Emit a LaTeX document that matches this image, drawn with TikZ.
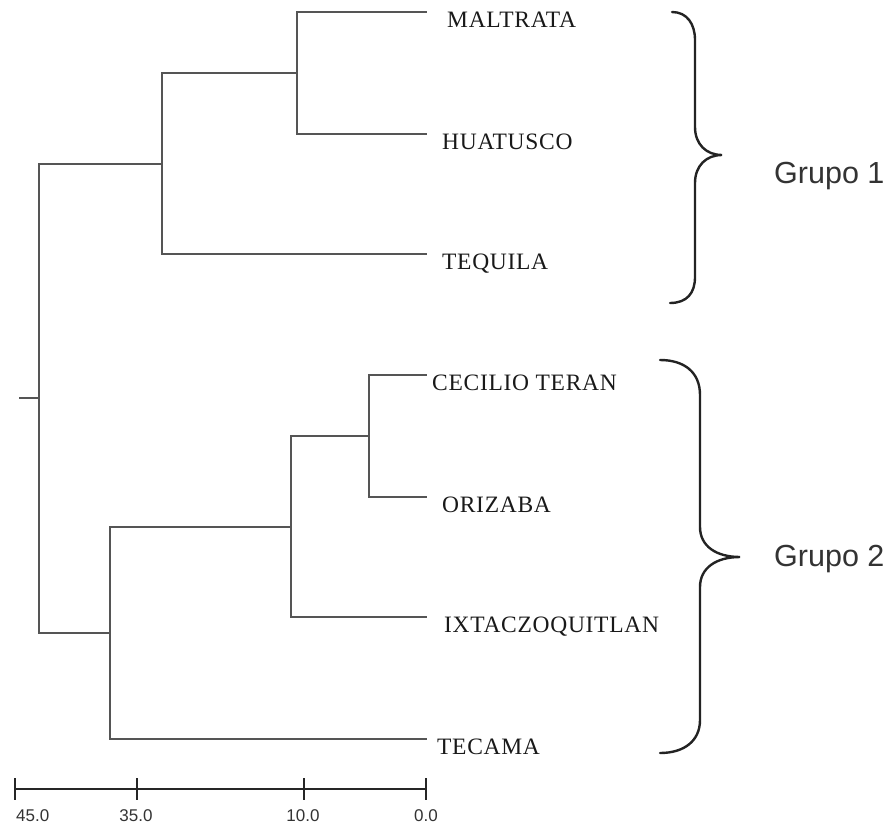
\documentclass[tikz,border=0pt]{standalone}
\usepackage{fontspec}
\usepackage{tikz}
\newfontfamily\grpfont{Liberation Sans}
\newfontfamily\leaffont{Liberation Serif}[LetterSpace=3]
\definecolor{linegray}{RGB}{85,85,85}
\definecolor{bracegray}{RGB}{35,35,35}

\begin{document}
\begin{tikzpicture}[x=1pt, y=-1pt]
    % Define the styles for branches, labels and the scale
    \tikzstyle{branch} = [draw=linegray, line width=2pt]
    \tikzstyle{leaf} = [anchor=north west, inner xsep=15pt, inner ysep=0pt, text=black!90, font=\leaffont\fontsize{23.5}{28}\selectfont]
    \tikzstyle{groupbrace} = [draw=bracegray, line width=2.4pt, line cap=round]
    \tikzstyle{grouplabel} = [anchor=base west, inner sep=0pt, text=black!80, font=\grpfont\fontsize{30.5}{36}\selectfont]
    \tikzstyle{scalebar} = [draw=black!85, line width=2pt]
    \tikzstyle{scalelabel} = [anchor=north, inner sep=0pt, text=black!80, font=\grpfont\fontsize{17}{20}\selectfont]

    \useasboundingbox (0,0) rectangle (896,824);

    % Leaves (labels hang from the end of each branch)
    \node[leaf, inner xsep=20pt] (maltrata) at (427,12) {MALTRATA};
    \node[leaf] (huatusco) at (427,134) {HUATUSCO};
    \node[leaf] (tequila) at (427,254) {TEQUILA};
    \node[leaf, inner xsep=5pt] (cecilio) at (427,375) {CECILIO TERAN};
    \node[leaf] (orizaba) at (427,497) {ORIZABA};
    \node[leaf, inner xsep=17pt] (ixtac) at (427,617) {IXTACZOQUITLAN};
    \node[leaf, inner xsep=10pt] (tecama) at (427,739) {TECAMA};

    % Junctions of the tree
    \coordinate (j1) at (297,73);
    \coordinate (j2) at (162,163.5);
    \coordinate (j3) at (369,436);
    \coordinate (j4) at (291,527);
    \coordinate (j5) at (110,633);
    \coordinate (root) at (39,398);
    \coordinate (stub) at (19,398);

    % Group 1
    \draw[branch] (j1) |- (maltrata.north west);
    \draw[branch] (j1) |- (huatusco.north west);
    \draw[branch] (j2) |- (j1);
    \draw[branch] (j2) |- (tequila.north west);

    % Group 2
    \draw[branch] (j3) |- (cecilio.north west);
    \draw[branch] (j3) |- (orizaba.north west);
    \draw[branch] (j4) |- (j3);
    \draw[branch] (j4) |- (ixtac.north west);
    \draw[branch] (j5) |- (j4);
    \draw[branch] (j5) |- (tecama.north west);

    % Root
    \draw[branch] (root) |- (j2);
    \draw[branch] (root) |- (j5);
    \draw[branch] (stub) -- (root);

    % Braces and group names
    \draw[groupbrace] (672,12) .. controls (687,12) and (695,24) .. (695,40)
        -- (695,127) .. controls (695,144) and (706,155) .. (722,155)
        .. controls (706,155) and (695,166) .. (695,183)
        -- (695,277) .. controls (695,293) and (687,303) .. (670,303);
    \node[grouplabel] (grupo1) at (774,183) {Grupo 1};

    \draw[groupbrace] (660,360) .. controls (684,360) and (700,372) .. (700,395)
        -- (700,527) .. controls (700,546) and (716,557) .. (740,557)
        .. controls (716,557) and (700,568) .. (700,587)
        -- (700,720) .. controls (700,741) and (684,753) .. (660,753);
    \node[grouplabel] (grupo2) at (774,566) {Grupo 2};

    % Scale bar
    \coordinate (s45) at (15,789);
    \coordinate (s35) at (137,789);
    \coordinate (s10) at (304,789);
    \coordinate (s0) at (426,789);
    \draw[scalebar] (s45) -- (s0);
    \foreach \tick in {s45,s35,s10,s0}
        \draw[scalebar] ([yshift=11pt]\tick) -- ([yshift=-11pt]\tick);
    \node[scalelabel, anchor=north west] (n45) at (16,809) {45.0};
    \node[scalelabel] (n35) at (136,809) {35.0};
    \node[scalelabel] (n10) at (303,809) {10.0};
    \node[scalelabel] (n0) at (426,809) {0.0};
\end{tikzpicture}
\end{document}
